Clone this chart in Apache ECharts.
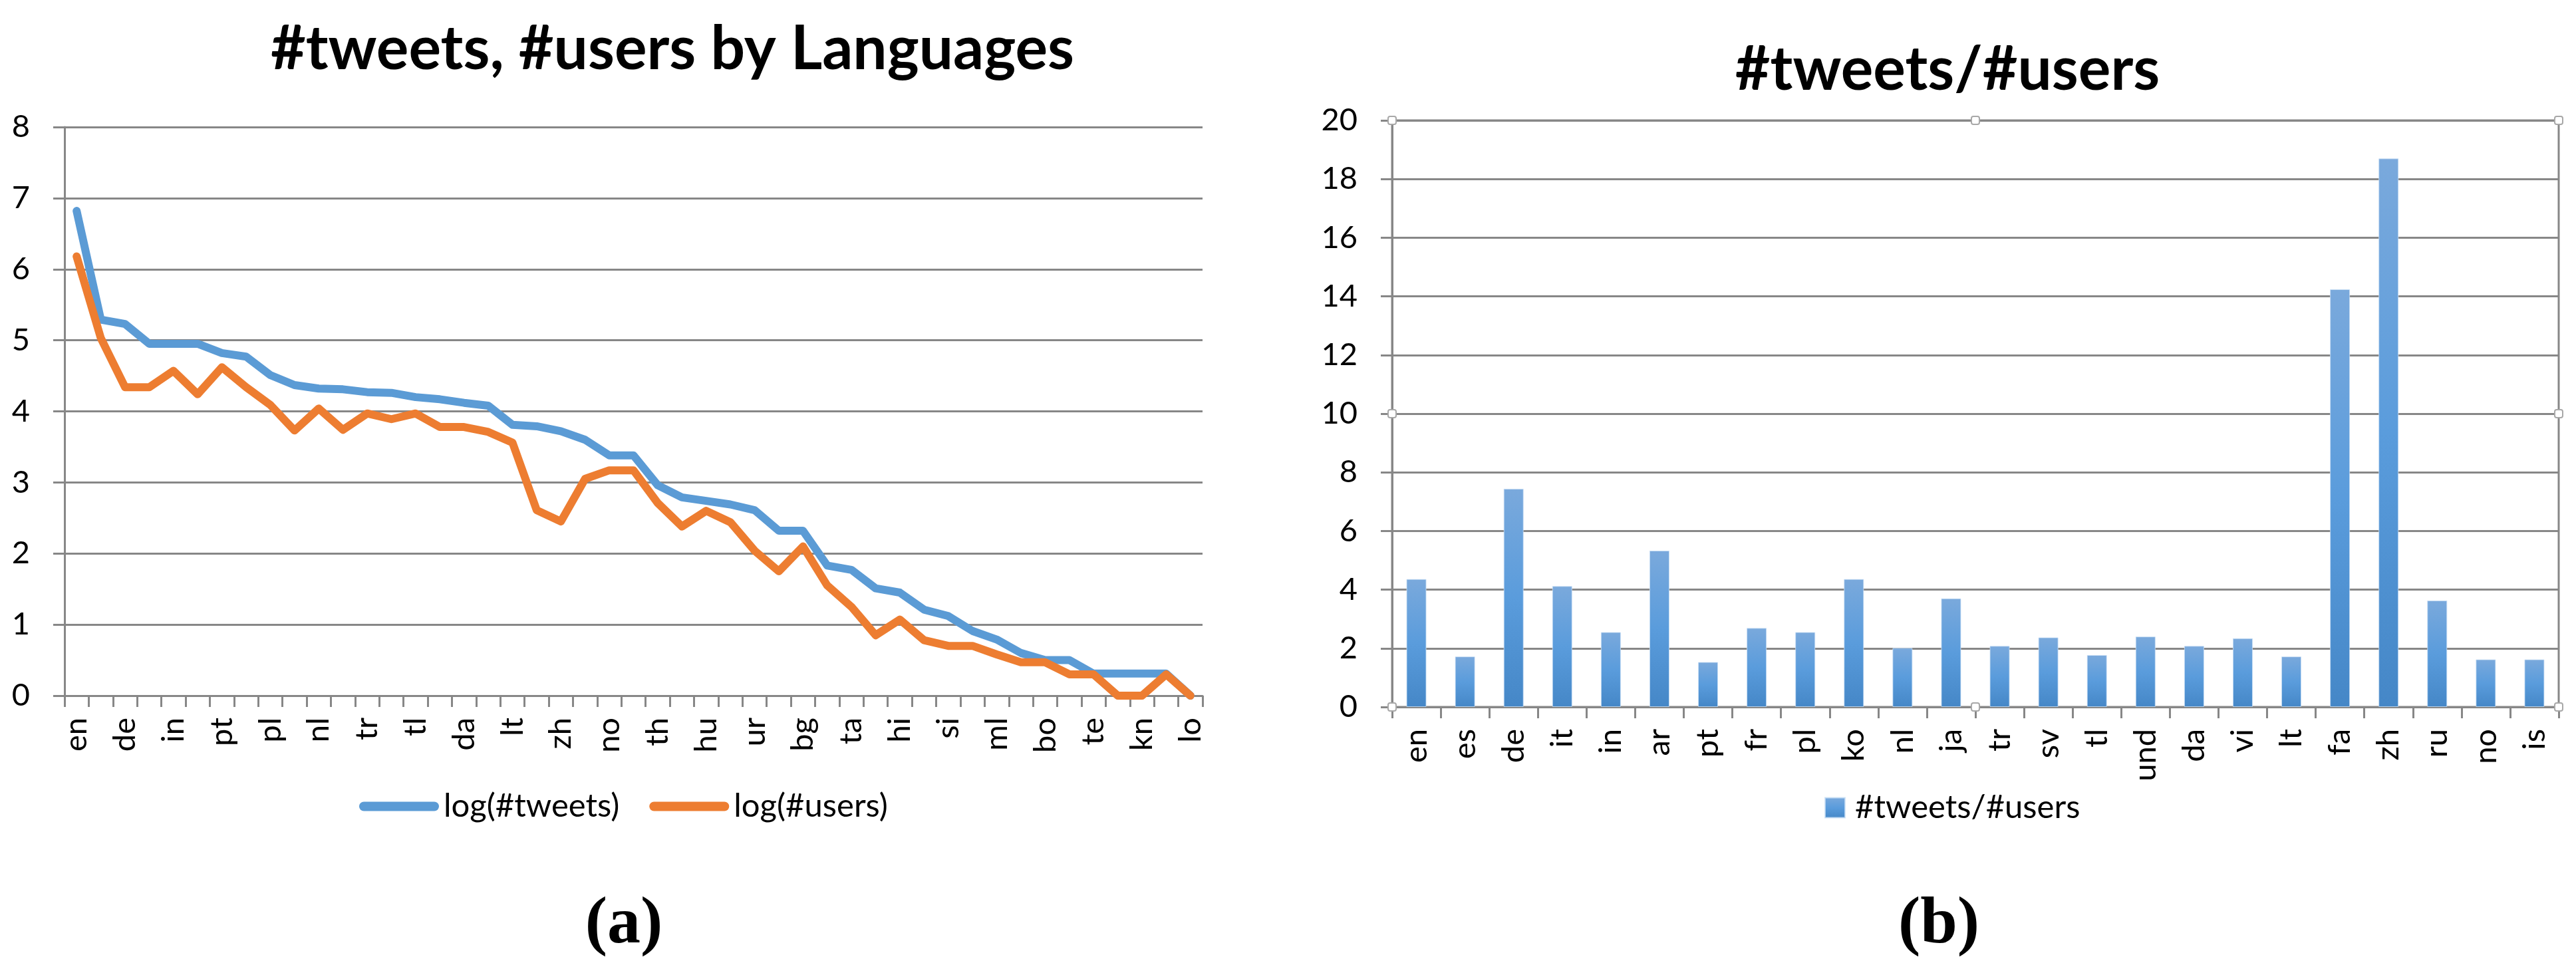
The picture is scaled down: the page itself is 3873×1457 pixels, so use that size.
<!DOCTYPE html>
<html>
<head>
<meta charset="utf-8">
<script src="https://cdn.jsdelivr.net/npm/echarts@6/dist/echarts.min.js"></script>
<style>
html,body{margin:0;padding:0;background:#ffffff;}
#chart{width:3873px;height:1457px;}
</style>
</head>
<body>
<div id="chart"></div>
<script>
// ---- data ----
const languages = ['en','es','de','it','in','ar','pt','fr','pl','ko','nl','ja','tr','sv','tl','und','da','vi','lt','fa','zh','ru','no','is',
  'th','el','hu','fi','ur','he','bg','ro','ta','cs','hi','ne','si','hy','ml','ka','bo','km','te','my','kn','gu','lo'];
const logTweets = [6.82,5.29,5.23,4.95,4.95,4.95,4.82,4.77,4.51,4.37,4.32,4.31,4.27,4.26,4.20,4.17,4.12,4.08,3.81,3.79,3.72,3.60,3.38,3.38,
  2.96,2.79,2.74,2.69,2.61,2.32,2.32,1.83,1.77,1.51,1.45,1.21,1.12,0.91,0.79,0.60,0.50,0.50,0.31,0.31,0.31,0.31,0];
const logUsers = [6.18,5.03,4.34,4.34,4.57,4.24,4.62,4.34,4.09,3.73,4.04,3.74,3.97,3.89,3.97,3.78,3.78,3.71,3.56,2.61,2.45,3.05,3.17,3.17,
  2.71,2.38,2.60,2.44,2.04,1.75,2.10,1.55,1.25,0.85,1.07,0.78,0.70,0.70,0.58,0.47,0.47,0.30,0.30,0,0,0.30,0];
const ratioLanguages = ['en','es','de','it','in','ar','pt','fr','pl','ko','nl','ja','tr','sv','tl','und','da','vi','lt','fa','zh','ru','no','is'];
const tweetsPerUser = [4.36,1.72,7.44,4.12,2.55,5.33,1.53,2.69,2.55,4.36,2.01,3.70,2.08,2.37,1.77,2.40,2.08,2.34,1.72,14.24,18.70,3.63,1.62,1.62];
const leftTitle = '#tweets, #users by Languages';
const rightTitle = '#tweets/#users';
const lineNames = ['log(#tweets)','log(#users)'];
const barName = '#tweets/#users';

// ---- layout / style ----
const GL = {left:97, top:191, width:1711, height:855};
const GR = {left:2093, top:181, width:1754, height:882};
const FONT = 'Lato';
const GRAY = '#878787';
const axisLineStyle = {color: GRAY, width: 3};
const labelStyle = {fontFamily: FONT, fontSize: 47, color: '#000'};

const handles = [];
[[0,0],[0.5,0],[1,0],[0,0.5],[1,0.5],[0,1],[0.5,1],[1,1]].forEach(function(p){
  const cx = GR.left + p[0]*GR.width, cy = GR.top + p[1]*GR.height;
  handles.push({type:'rect', z:100, shape:{x:cx-6, y:cy-6, width:12, height:12, r:3},
    style:{fill:'#ffffff', stroke:'#a8a8a8', lineWidth:2}});
});

const chart = echarts.init(document.getElementById('chart'), null, {renderer:'canvas'});
chart.setOption({
  backgroundColor: '#ffffff',
  animation: false,
  title: [
    {text: leftTitle, left: 1011, top: 29, textAlign: 'center', padding: 0,
     textStyle: {fontFamily: FONT, fontWeight: 'bold', fontSize: 91, color: '#000'}},
    {text: rightTitle, left: 2928, top: 60, textAlign: 'center', padding: 0,
     textStyle: {fontFamily: FONT, fontWeight: 'bold', fontSize: 91, color: '#000'}},
    {text: '{p|(}{b|a}{p|)}', left: 938, top: 1341, textAlign: 'center', padding: 0,
     textStyle: {rich: {p: {fontFamily: 'Liberation Serif', fontSize: 100, color: '#000'},
                        b: {fontFamily: 'Liberation Serif', fontSize: 100, fontWeight: 'bold', color: '#000'}}}},
    {text: '{p|(}{b|b}{p|)}', left: 2915, top: 1341, textAlign: 'center', padding: 0,
     textStyle: {rich: {p: {fontFamily: 'Liberation Serif', fontSize: 100, color: '#000'},
                        b: {fontFamily: 'Liberation Serif', fontSize: 100, fontWeight: 'bold', color: '#000'}}}}
  ],
  legend: [
    {data: lineNames, left: 540, top: 1188, padding: 0, itemWidth: 120, itemHeight: 14, itemGap: 45,
     icon: 'path://M7,0 L113,0 A7,7 0 0 1 113,14 L7,14 A7,7 0 0 1 7,0 Z',
     textStyle: {fontFamily: FONT, fontSize: 49, color: '#000', padding: [0,0,0,2]}},
    {data: [barName], left: 2743, top: 1190, padding: 0, itemWidth: 30, itemHeight: 30, icon: 'rect',
     textStyle: {fontFamily: FONT, fontSize: 49, color: '#000', padding: [0,0,0,10]}}
  ],
  grid: [
    {left: GL.left, top: GL.top, width: GL.width, height: GL.height, containLabel: false},
    {left: GR.left, top: GR.top, width: GR.width, height: GR.height, containLabel: false,
     show: true, borderColor: GRAY, borderWidth: 3, backgroundColor: 'transparent'}
  ],
  xAxis: [
    {type: 'category', gridIndex: 0, data: languages, boundaryGap: true,
     axisLine: {show: true, lineStyle: axisLineStyle},
     axisTick: {show: true, interval: 0, length: 17, lineStyle: axisLineStyle},
     axisLabel: Object.assign({interval: 1, rotate: 90, margin: 33}, labelStyle),
     splitLine: {show: false}},
    {type: 'category', gridIndex: 1, data: ratioLanguages, boundaryGap: true,
     axisLine: {show: true, lineStyle: axisLineStyle},
     axisTick: {show: true, interval: 0, length: 17, lineStyle: axisLineStyle},
     axisLabel: Object.assign({interval: 0, rotate: 90, margin: 33}, labelStyle),
     splitLine: {show: false}}
  ],
  yAxis: [
    {type: 'value', gridIndex: 0, min: 0, max: 8, interval: 1,
     axisLine: {show: true, lineStyle: axisLineStyle},
     axisTick: {show: true, length: 17, lineStyle: axisLineStyle},
     axisLabel: Object.assign({margin: 52}, labelStyle),
     splitLine: {show: true, lineStyle: axisLineStyle}},
    {type: 'value', gridIndex: 1, min: 0, max: 20, interval: 2,
     axisLine: {show: true, lineStyle: axisLineStyle},
     axisTick: {show: true, length: 17, lineStyle: axisLineStyle},
     axisLabel: Object.assign({margin: 52}, labelStyle),
     splitLine: {show: true, lineStyle: axisLineStyle}}
  ],
  series: [
    {name: lineNames[0], type: 'line', xAxisIndex: 0, yAxisIndex: 0, data: logTweets,
     symbol: 'none', showSymbol: false, smooth: false,
     itemStyle: {color: '#5B9BD5'},
     lineStyle: {color: '#5B9BD5', width: 12, cap: 'round', join: 'round'}},
    {name: lineNames[1], type: 'line', xAxisIndex: 0, yAxisIndex: 0, data: logUsers,
     symbol: 'none', showSymbol: false, smooth: false,
     itemStyle: {color: '#ED7D31'},
     lineStyle: {color: '#ED7D31', width: 12, cap: 'round', join: 'round'}},
    {name: barName, type: 'bar', xAxisIndex: 1, yAxisIndex: 1, data: tweetsPerUser, barWidth: 30,
     itemStyle: {
       color: new echarts.graphic.LinearGradient(0, 0, 0, 1, [
         {offset: 0, color: '#7aa9dc'},
         {offset: 0.5, color: '#5a9cdc'},
         {offset: 1, color: '#4587c7'}
       ]),
       borderColor: 'rgba(200,222,245,0.8)', borderWidth: 1
     }}
  ],
  graphic: handles
});
</script>
</body>
</html>
